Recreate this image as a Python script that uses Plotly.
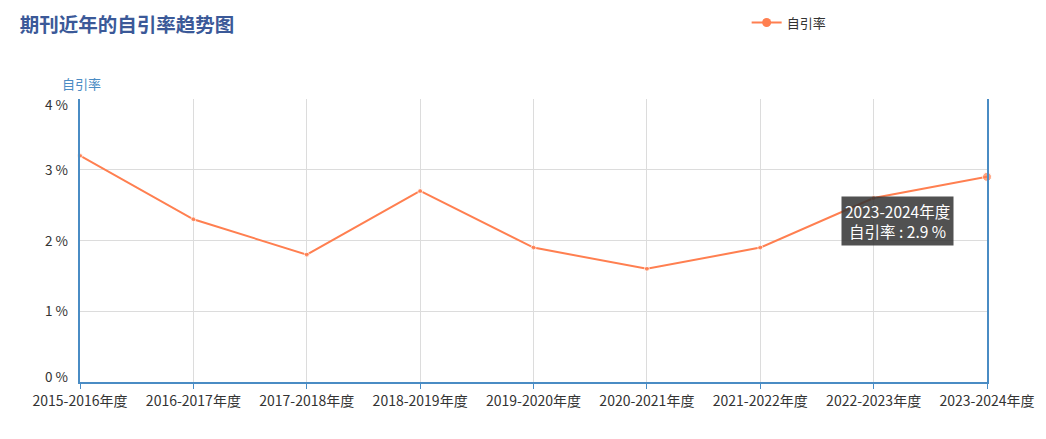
import plotly.graph_objects as go

years = ["2015-2016年度", "2016-2017年度", "2017-2018年度", "2018-2019年度", "2019-2020年度",
         "2020-2021年度", "2021-2022年度", "2022-2023年度", "2023-2024年度"]
self_cite_rate = [3.2, 2.3, 1.8, 2.7, 1.9, 1.6, 1.9, 2.6, 2.9]
y_ticks = [0, 1, 2, 3, 4]
y_tick_labels = ["0 %", "1 %", "2 %", "3 %", "4 %"]

FONT = "Microsoft YaHei, Noto Sans CJK SC, sans-serif"
CORAL = "#ff7f50"
BLUE = "#4a8cc4"

sizes = [5] * (len(years) - 1) + [9]

fig = go.Figure()
fig.add_trace(go.Scatter(
    x=years, y=self_cite_rate, mode="lines+markers", name="自引率",
    line=dict(color=CORAL, width=2),
    marker=dict(color=CORAL, size=sizes),
    cliponaxis=False, showlegend=False,
))
# legend entry with a larger symbol, as in the reference
fig.add_trace(go.Scatter(
    x=[None], y=[None], mode="lines+markers", name="自引率",
    line=dict(color=CORAL, width=2), marker=dict(color=CORAL, size=9),
    hoverinfo="skip",
))

fig.update_layout(
    width=1046, height=439,
    margin=dict(l=80, r=59, t=99, b=57, autoexpand=False),
    paper_bgcolor="white", plot_bgcolor="white",
    font=dict(family=FONT, size=13, color="#333"),
    title=dict(text="<b>期刊近年的自引率趋势图</b>", x=0.019, xanchor="left", y=0.943, yanchor="middle",
               font=dict(size=19.5, color="#3b5998", family=FONT)),
    showlegend=True,
    legend=dict(orientation="h", x=0.735, xanchor="left", y=1.27, yanchor="middle",
                font=dict(size=13, color="#333"), itemwidth=30),
    hovermode="x",
)

fig.update_xaxes(
    type="category", range=[0, len(years) - 1], automargin=False,
    showgrid=True, gridcolor="#dcdcdc", gridwidth=1,
    showline=True, linecolor=BLUE, linewidth=2,
    ticks="outside", ticklen=5, tickcolor=BLUE,
    tickfont=dict(size=14, color="#333"),
)
fig.update_yaxes(
    range=[0, 4], tickvals=y_ticks, showticklabels=False, automargin=False,
    showgrid=True, gridcolor="#dcdcdc", gridwidth=1,
    showline=True, linecolor=BLUE, linewidth=2, mirror=True,
    ticks="", zeroline=False,
)

# y tick labels, nudged inside the axis range like the reference
label_shift = {0: 6, 4: -5}
for v, lab in zip(y_ticks, y_tick_labels):
    fig.add_annotation(xref="paper", yref="y", x=0, y=v, xanchor="right", yanchor="middle",
                       xshift=-10, yshift=label_shift.get(v, 1), text=lab, showarrow=False,
                       font=dict(size=13.5, color="#333"))

fig.add_annotation(xref="paper", yref="paper", x=-0.022, y=1.014, xanchor="left", yanchor="bottom",
                   text="自引率", showarrow=False, font=dict(size=13, color=BLUE))

fig.add_annotation(xref="paper", yref="paper", x=0.9008, y=0.57, xanchor="center", yanchor="middle",
                   text=years[-1] + "<br>自引率 : " + str(self_cite_rate[-1]) + " %",
                   showarrow=False, bgcolor="rgba(50,50,50,0.85)", borderpad=3,
                   font=dict(size=15.5, color="white"), align="center")

fig.write_html("out.html", config={"displayModeBar": False},
               post_script="document.body.style.margin='0';")
